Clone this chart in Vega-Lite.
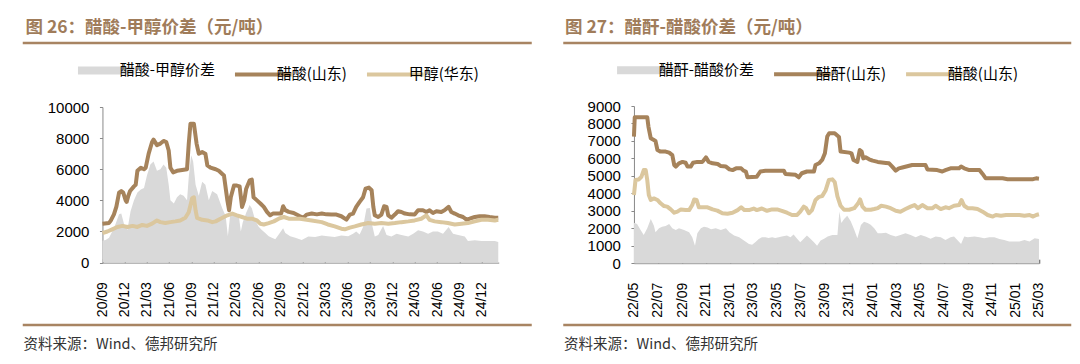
{
  "$schema": "https://vega.github.io/schema/vega-lite/v6.json",
  "background": "white",
  "padding": {"left": 20.75, "top": 18, "right": 0, "bottom": 0},
  "config": {
    "view": {"stroke": null},
    "axis": {"labelFont": "Liberation Sans", "labelColor": "#000000", "grid": false, "title": null}
  },
  "datasets": {
    "p26": [
      {"date":"2020-09-01","series":"醋酸-甲醇价差","value":1400},{"date":"2020-09-14","series":"醋酸-甲醇价差","value":1450},{"date":"2020-09-28","series":"醋酸-甲醇价差","value":1600},{"date":"2020-10-11","series":"醋酸-甲醇价差","value":2000},{"date":"2020-10-25","series":"醋酸-甲醇价差","value":2500},{"date":"2020-11-08","series":"醋酸-甲醇价差","value":3100},{"date":"2020-11-17","series":"醋酸-甲醇价差","value":3150},{"date":"2020-11-28","series":"醋酸-甲醇价差","value":2500},{"date":"2020-12-12","series":"醋酸-甲醇价差","value":2100},{"date":"2020-12-25","series":"醋酸-甲醇价差","value":3300},{"date":"2021-01-08","series":"醋酸-甲醇价差","value":4000},{"date":"2021-01-22","series":"醋酸-甲醇价差","value":4500},{"date":"2021-02-05","series":"醋酸-甲醇价差","value":4700},{"date":"2021-02-18","series":"醋酸-甲醇价差","value":4800},{"date":"2021-03-02","series":"醋酸-甲醇价差","value":5600},{"date":"2021-03-16","series":"醋酸-甲醇价差","value":6300},{"date":"2021-03-29","series":"醋酸-甲醇价差","value":6500},{"date":"2021-04-12","series":"醋酸-甲醇价差","value":5900},{"date":"2021-04-26","series":"醋酸-甲醇价差","value":6000},{"date":"2021-05-09","series":"醋酸-甲醇价差","value":6300},{"date":"2021-05-20","series":"醋酸-甲醇价差","value":6100},{"date":"2021-05-30","series":"醋酸-甲醇价差","value":5000},{"date":"2021-06-06","series":"醋酸-甲醇价差","value":4000},{"date":"2021-06-20","series":"醋酸-甲醇价差","value":3800},{"date":"2021-07-03","series":"醋酸-甲醇价差","value":4200},{"date":"2021-07-16","series":"醋酸-甲醇价差","value":4400},{"date":"2021-07-30","series":"醋酸-甲醇价差","value":4300},{"date":"2021-08-13","series":"醋酸-甲醇价差","value":4000},{"date":"2021-08-20","series":"醋酸-甲醇价差","value":5500},{"date":"2021-08-30","series":"醋酸-甲醇价差","value":6900},{"date":"2021-09-07","series":"醋酸-甲醇价差","value":6500},{"date":"2021-09-17","series":"醋酸-甲醇价差","value":5000},{"date":"2021-09-30","series":"醋酸-甲醇价差","value":4300},{"date":"2021-10-14","series":"醋酸-甲醇价差","value":5200},{"date":"2021-10-27","series":"醋酸-甲醇价差","value":5000},{"date":"2021-11-10","series":"醋酸-甲醇价差","value":4000},{"date":"2021-11-24","series":"醋酸-甲醇价差","value":4600},{"date":"2021-12-14","series":"醋酸-甲醇价差","value":4400},{"date":"2022-01-04","series":"醋酸-甲醇价差","value":3500},{"date":"2022-01-18","series":"醋酸-甲醇价差","value":3000},{"date":"2022-01-27","series":"醋酸-甲醇价差","value":1700},{"date":"2022-02-05","series":"醋酸-甲醇价差","value":3000},{"date":"2022-02-14","series":"醋酸-甲醇价差","value":3200},{"date":"2022-02-28","series":"醋酸-甲醇价差","value":3000},{"date":"2022-03-12","series":"醋酸-甲醇价差","value":3100},{"date":"2022-03-21","series":"醋酸-甲醇价差","value":2000},{"date":"2022-03-29","series":"醋酸-甲醇价差","value":2600},{"date":"2022-04-12","series":"醋酸-甲醇价差","value":3200},{"date":"2022-04-26","series":"醋酸-甲醇价差","value":3700},{"date":"2022-05-05","series":"醋酸-甲醇价差","value":3500},{"date":"2022-05-19","series":"醋酸-甲醇价差","value":2700},{"date":"2022-06-02","series":"醋酸-甲醇价差","value":2300},{"date":"2022-06-15","series":"醋酸-甲醇价差","value":2100},{"date":"2022-06-29","series":"醋酸-甲醇价差","value":1900},{"date":"2022-07-13","series":"醋酸-甲醇价差","value":1700},{"date":"2022-07-26","series":"醋酸-甲醇价差","value":1600},{"date":"2022-08-09","series":"醋酸-甲醇价差","value":1500},{"date":"2022-08-23","series":"醋酸-甲醇价差","value":1800},{"date":"2022-09-10","series":"醋酸-甲醇价差","value":2200},{"date":"2022-09-19","series":"醋酸-甲醇价差","value":1900},{"date":"2022-10-09","series":"醋酸-甲醇价差","value":1700},{"date":"2022-10-30","series":"醋酸-甲醇价差","value":1600},{"date":"2022-11-25","series":"醋酸-甲醇价差","value":1460},{"date":"2022-12-22","series":"醋酸-甲醇价差","value":1680},{"date":"2023-01-19","series":"醋酸-甲醇价差","value":1650},{"date":"2023-02-15","series":"醋酸-甲醇价差","value":1740},{"date":"2023-03-12","series":"醋酸-甲醇价差","value":1700},{"date":"2023-04-09","series":"醋酸-甲醇价差","value":1650},{"date":"2023-05-06","series":"醋酸-甲醇价差","value":1740},{"date":"2023-06-03","series":"醋酸-甲醇价差","value":1700},{"date":"2023-06-23","series":"醋酸-甲醇价差","value":1860},{"date":"2023-07-06","series":"醋酸-甲醇价差","value":2000},{"date":"2023-07-20","series":"醋酸-甲醇价差","value":1800},{"date":"2023-08-03","series":"醋酸-甲醇价差","value":2290},{"date":"2023-08-17","series":"醋酸-甲醇价差","value":3470},{"date":"2023-08-31","series":"醋酸-甲醇价差","value":3510},{"date":"2023-09-10","series":"醋酸-甲醇价差","value":2360},{"date":"2023-09-20","series":"醋酸-甲醇价差","value":1680},{"date":"2023-10-04","series":"醋酸-甲醇价差","value":1780},{"date":"2023-10-24","series":"醋酸-甲醇价差","value":2360},{"date":"2023-11-07","series":"醋酸-甲醇价差","value":1780},{"date":"2023-11-27","series":"醋酸-甲醇价差","value":1680},{"date":"2023-12-18","series":"醋酸-甲醇价差","value":1860},{"date":"2024-01-07","series":"醋酸-甲醇价差","value":1780},{"date":"2024-02-04","series":"醋酸-甲醇价差","value":1680},{"date":"2024-02-24","series":"醋酸-甲醇价差","value":1860},{"date":"2024-03-15","series":"醋酸-甲醇价差","value":2080},{"date":"2024-04-04","series":"醋酸-甲醇价差","value":2000},{"date":"2024-04-25","series":"醋酸-甲醇价差","value":1860},{"date":"2024-05-15","series":"醋酸-甲醇价差","value":2000},{"date":"2024-06-04","series":"醋酸-甲醇价差","value":2000},{"date":"2024-06-25","series":"醋酸-甲醇价差","value":1860},{"date":"2024-07-18","series":"醋酸-甲醇价差","value":2290},{"date":"2024-08-05","series":"醋酸-甲醇价差","value":1860},{"date":"2024-08-26","series":"醋酸-甲醇价差","value":1780},{"date":"2024-09-22","series":"醋酸-甲醇价差","value":1680},{"date":"2024-10-05","series":"醋酸-甲醇价差","value":1390},{"date":"2024-11-02","series":"醋酸-甲醇价差","value":1440},{"date":"2024-11-29","series":"醋酸-甲醇价差","value":1390},{"date":"2024-12-26","series":"醋酸-甲醇价差","value":1390},{"date":"2025-01-23","series":"醋酸-甲醇价差","value":1390},{"date":"2025-02-06","series":"醋酸-甲醇价差","value":1330},
      {"date":"2020-09-01","series":"醋酸(山东)","value":2500},{"date":"2020-09-28","series":"醋酸(山东)","value":2550},{"date":"2020-10-05","series":"醋酸(山东)","value":2700},{"date":"2020-10-18","series":"醋酸(山东)","value":3100},{"date":"2020-10-28","series":"醋酸(山东)","value":3600},{"date":"2020-11-08","series":"醋酸(山东)","value":4500},{"date":"2020-11-17","series":"醋酸(山东)","value":4600},{"date":"2020-11-25","series":"醋酸(山东)","value":4500},{"date":"2020-12-05","series":"醋酸(山东)","value":4000},{"date":"2020-12-09","series":"醋酸(山东)","value":3900},{"date":"2020-12-16","series":"醋酸(山东)","value":4300},{"date":"2020-12-23","series":"醋酸(山东)","value":4600},{"date":"2021-01-08","series":"醋酸(山东)","value":4900},{"date":"2021-01-15","series":"醋酸(山东)","value":5000},{"date":"2021-01-22","series":"醋酸(山东)","value":5900},{"date":"2021-02-05","series":"醋酸(山东)","value":6100},{"date":"2021-02-18","series":"醋酸(山东)","value":6000},{"date":"2021-02-25","series":"醋酸(山东)","value":6100},{"date":"2021-03-09","series":"醋酸(山东)","value":7000},{"date":"2021-03-23","series":"醋酸(山东)","value":7750},{"date":"2021-03-29","series":"醋酸(山东)","value":7900},{"date":"2021-04-12","series":"醋酸(山东)","value":7550},{"date":"2021-04-26","series":"醋酸(山东)","value":7650},{"date":"2021-05-09","series":"醋酸(山东)","value":7820},{"date":"2021-05-20","series":"醋酸(山东)","value":7750},{"date":"2021-05-30","series":"醋酸(山东)","value":7200},{"date":"2021-06-06","series":"醋酸(山东)","value":6100},{"date":"2021-06-17","series":"醋酸(山东)","value":5800},{"date":"2021-07-03","series":"醋酸(山东)","value":5900},{"date":"2021-07-24","series":"醋酸(山东)","value":5950},{"date":"2021-08-13","series":"醋酸(山东)","value":6000},{"date":"2021-08-20","series":"醋酸(山东)","value":7650},{"date":"2021-08-27","series":"醋酸(山东)","value":8930},{"date":"2021-09-10","series":"醋酸(山东)","value":8930},{"date":"2021-09-21","series":"醋酸(山东)","value":7650},{"date":"2021-09-30","series":"醋酸(山东)","value":7000},{"date":"2021-10-14","series":"醋酸(山东)","value":7100},{"date":"2021-10-27","series":"醋酸(山东)","value":7000},{"date":"2021-11-04","series":"醋酸(山东)","value":6250},{"date":"2021-11-17","series":"醋酸(山东)","value":6100},{"date":"2021-12-08","series":"醋酸(山东)","value":6000},{"date":"2021-12-21","series":"醋酸(山东)","value":5900},{"date":"2022-01-04","series":"醋酸(山东)","value":5700},{"date":"2022-01-11","series":"醋酸(山东)","value":5600},{"date":"2022-01-25","series":"醋酸(山东)","value":4000},{"date":"2022-02-01","series":"醋酸(山东)","value":3370},{"date":"2022-02-08","series":"醋酸(山东)","value":4200},{"date":"2022-02-21","series":"醋酸(山东)","value":4950},{"date":"2022-03-05","series":"醋酸(山东)","value":4950},{"date":"2022-03-16","series":"醋酸(山东)","value":4900},{"date":"2022-03-26","series":"醋酸(山东)","value":3580},{"date":"2022-04-04","series":"醋酸(山东)","value":4000},{"date":"2022-04-12","series":"醋酸(山东)","value":4750},{"date":"2022-04-26","series":"醋酸(山东)","value":5280},{"date":"2022-05-05","series":"醋酸(山东)","value":5330},{"date":"2022-05-12","series":"醋酸(山东)","value":4200},{"date":"2022-05-26","series":"醋酸(山东)","value":4000},{"date":"2022-06-09","series":"醋酸(山东)","value":3800},{"date":"2022-06-23","series":"醋酸(山东)","value":3580},{"date":"2022-07-06","series":"醋酸(山东)","value":3260},{"date":"2022-07-19","series":"醋酸(山东)","value":3040},{"date":"2022-07-30","series":"醋酸(山东)","value":3150},{"date":"2022-08-16","series":"醋酸(山东)","value":3150},{"date":"2022-09-02","series":"醋酸(山东)","value":3150},{"date":"2022-09-10","series":"醋酸(山东)","value":3620},{"date":"2022-09-19","series":"醋酸(山东)","value":3370},{"date":"2022-10-03","series":"醋酸(山东)","value":3260},{"date":"2022-10-23","series":"醋酸(山东)","value":3190},{"date":"2022-11-18","series":"醋酸(山东)","value":2980},{"date":"2022-12-02","series":"醋酸(山东)","value":2890},{"date":"2022-12-15","series":"醋酸(山东)","value":3085},{"date":"2023-01-05","series":"醋酸(山东)","value":3150},{"date":"2023-01-26","series":"醋酸(山东)","value":3100},{"date":"2023-02-15","series":"醋酸(山东)","value":3150},{"date":"2023-03-06","series":"醋酸(山东)","value":3100},{"date":"2023-03-27","series":"醋酸(山东)","value":3085},{"date":"2023-04-16","series":"醋酸(山东)","value":3085},{"date":"2023-05-06","series":"醋酸(山东)","value":2980},{"date":"2023-05-27","series":"醋酸(山东)","value":2760},{"date":"2023-06-10","series":"醋酸(山东)","value":3085},{"date":"2023-06-23","series":"醋酸(山东)","value":3150},{"date":"2023-07-06","series":"醋酸(山东)","value":3580},{"date":"2023-07-20","series":"醋酸(山东)","value":3900},{"date":"2023-08-03","series":"醋酸(山东)","value":4200},{"date":"2023-08-13","series":"醋酸(山东)","value":4750},{"date":"2023-08-27","series":"醋酸(山东)","value":4820},{"date":"2023-09-07","series":"醋酸(山东)","value":4650},{"date":"2023-09-14","series":"醋酸(山东)","value":3580},{"date":"2023-09-20","series":"醋酸(山东)","value":3040},{"date":"2023-10-04","series":"醋酸(山东)","value":2930},{"date":"2023-10-17","series":"醋酸(山东)","value":3085},{"date":"2023-10-28","series":"醋酸(山东)","value":3620},{"date":"2023-11-07","series":"醋酸(山东)","value":3580},{"date":"2023-11-14","series":"醋酸(山东)","value":3040},{"date":"2023-11-27","series":"醋酸(山东)","value":2890},{"date":"2023-12-11","series":"醋酸(山东)","value":3085},{"date":"2023-12-24","series":"醋酸(山东)","value":3300},{"date":"2024-01-07","series":"醋酸(山东)","value":3250},{"date":"2024-01-21","series":"醋酸(山东)","value":3150},{"date":"2024-02-10","series":"醋酸(山东)","value":3100},{"date":"2024-03-01","series":"醋酸(山东)","value":3085},{"date":"2024-03-15","series":"醋酸(山东)","value":3360},{"date":"2024-04-04","series":"醋酸(山东)","value":3360},{"date":"2024-04-18","series":"醋酸(山东)","value":3250},{"date":"2024-05-01","series":"醋酸(山东)","value":3360},{"date":"2024-05-15","series":"醋酸(山东)","value":3190},{"date":"2024-05-29","series":"醋酸(山东)","value":3300},{"date":"2024-06-18","series":"醋酸(山东)","value":3250},{"date":"2024-07-01","series":"醋酸(山东)","value":3360},{"date":"2024-07-18","series":"醋酸(山东)","value":3580},{"date":"2024-07-29","series":"醋酸(山东)","value":3250},{"date":"2024-08-12","series":"醋酸(山东)","value":3150},{"date":"2024-08-26","series":"醋酸(山东)","value":3040},{"date":"2024-09-15","series":"醋酸(山东)","value":2930},{"date":"2024-09-29","series":"醋酸(山东)","value":2760},{"date":"2024-10-12","series":"醋酸(山东)","value":2820},{"date":"2024-11-02","series":"醋酸(山东)","value":2930},{"date":"2024-11-22","series":"醋酸(山东)","value":2980},{"date":"2024-12-12","series":"醋酸(山东)","value":2980},{"date":"2025-01-02","series":"醋酸(山东)","value":2930},{"date":"2025-01-23","series":"醋酸(山东)","value":2890},{"date":"2025-02-06","series":"醋酸(山东)","value":2890},
      {"date":"2020-09-01","series":"甲醇(华东)","value":1900},{"date":"2020-09-21","series":"甲醇(华东)","value":2000},{"date":"2020-10-11","series":"甲醇(华东)","value":2140},{"date":"2020-11-01","series":"甲醇(华东)","value":2290},{"date":"2020-11-22","series":"甲醇(华东)","value":2360},{"date":"2020-12-12","series":"甲醇(华东)","value":2290},{"date":"2021-01-02","series":"甲醇(华东)","value":2360},{"date":"2021-01-22","series":"甲醇(华东)","value":2290},{"date":"2021-02-11","series":"甲醇(华东)","value":2420},{"date":"2021-03-02","series":"甲醇(华东)","value":2360},{"date":"2021-03-23","series":"甲醇(华东)","value":2500},{"date":"2021-04-12","series":"甲醇(华东)","value":2710},{"date":"2021-04-26","series":"甲醇(华东)","value":2600},{"date":"2021-05-16","series":"甲醇(华东)","value":2550},{"date":"2021-06-06","series":"甲醇(华东)","value":2600},{"date":"2021-06-26","series":"甲醇(华东)","value":2650},{"date":"2021-07-16","series":"甲醇(华东)","value":2710},{"date":"2021-08-06","series":"甲醇(华东)","value":2880},{"date":"2021-08-20","series":"甲醇(华东)","value":3240},{"date":"2021-09-03","series":"甲醇(华东)","value":4140},{"date":"2021-09-10","series":"甲醇(华东)","value":4200},{"date":"2021-09-17","series":"甲醇(华东)","value":3350},{"date":"2021-09-23","series":"甲醇(华东)","value":2880},{"date":"2021-10-14","series":"甲醇(华东)","value":2750},{"date":"2021-11-04","series":"甲醇(华东)","value":2710},{"date":"2021-11-24","series":"甲醇(华东)","value":2600},{"date":"2021-12-08","series":"甲醇(华东)","value":2650},{"date":"2021-12-28","series":"甲醇(华东)","value":2820},{"date":"2022-01-11","series":"甲醇(华东)","value":2930},{"date":"2022-01-25","series":"甲醇(华东)","value":3040},{"date":"2022-02-14","series":"甲醇(华东)","value":3150},{"date":"2022-03-05","series":"甲醇(华东)","value":3040},{"date":"2022-03-26","series":"甲醇(华东)","value":2930},{"date":"2022-04-15","series":"甲醇(华东)","value":2820},{"date":"2022-05-05","series":"甲醇(华东)","value":2820},{"date":"2022-05-26","series":"甲醇(华东)","value":2710},{"date":"2022-06-09","series":"甲醇(华东)","value":2500},{"date":"2022-06-23","series":"甲醇(华东)","value":2450},{"date":"2022-07-13","series":"甲醇(华东)","value":2540},{"date":"2022-08-03","series":"甲醇(华东)","value":2650},{"date":"2022-08-23","series":"甲醇(华东)","value":2820},{"date":"2022-09-13","series":"甲醇(华东)","value":2930},{"date":"2022-10-03","series":"甲醇(华东)","value":2820},{"date":"2022-10-23","series":"甲醇(华东)","value":2820},{"date":"2022-11-18","series":"甲醇(华东)","value":2820},{"date":"2023-01-05","series":"甲醇(华东)","value":2710},{"date":"2023-02-15","series":"甲醇(华东)","value":2600},{"date":"2023-03-12","series":"甲醇(华东)","value":2450},{"date":"2023-04-09","series":"甲醇(华东)","value":2330},{"date":"2023-05-06","series":"甲醇(华东)","value":2180},{"date":"2023-05-20","series":"甲醇(华东)","value":2140},{"date":"2023-06-10","series":"甲醇(华东)","value":2250},{"date":"2023-06-30","series":"甲醇(华东)","value":2330},{"date":"2023-07-27","series":"甲醇(华东)","value":2450},{"date":"2023-08-24","series":"甲醇(华东)","value":2540},{"date":"2023-09-20","series":"甲醇(华东)","value":2500},{"date":"2023-10-17","series":"甲醇(华东)","value":2540},{"date":"2023-11-14","series":"甲醇(华东)","value":2500},{"date":"2023-12-11","series":"甲醇(华东)","value":2540},{"date":"2024-01-07","series":"甲醇(华东)","value":2600},{"date":"2024-02-04","series":"甲醇(华东)","value":2650},{"date":"2024-03-01","series":"甲醇(华东)","value":2710},{"date":"2024-03-28","series":"甲醇(华东)","value":2820},{"date":"2024-04-18","series":"甲醇(华东)","value":3040},{"date":"2024-05-01","series":"甲醇(华东)","value":2750},{"date":"2024-05-22","series":"甲醇(华东)","value":2650},{"date":"2024-06-18","series":"甲醇(华东)","value":2600},{"date":"2024-07-15","series":"甲醇(华东)","value":2540},{"date":"2024-08-12","series":"甲醇(华东)","value":2450},{"date":"2024-09-09","series":"甲醇(华东)","value":2500},{"date":"2024-10-05","series":"甲醇(华东)","value":2540},{"date":"2024-11-02","series":"甲醇(华东)","value":2650},{"date":"2024-11-29","series":"甲醇(华东)","value":2750},{"date":"2024-12-26","series":"甲醇(华东)","value":2750},{"date":"2025-01-23","series":"甲醇(华东)","value":2710},{"date":"2025-02-06","series":"甲醇(华东)","value":2750}
    ],
    "p27": [
      {"date":"2022-05-01","series":"醋酐-醋酸价差","value":2320},{"date":"2022-05-09","series":"醋酐-醋酸价差","value":2240},{"date":"2022-05-18","series":"醋酐-醋酸价差","value":1900},{"date":"2022-05-26","series":"醋酐-醋酸价差","value":1620},{"date":"2022-06-04","series":"醋酐-醋酸价差","value":2000},{"date":"2022-06-13","series":"醋酐-醋酸价差","value":2530},{"date":"2022-06-21","series":"醋酐-醋酸价差","value":2150},{"date":"2022-06-25","series":"醋酐-醋酸价差","value":1770},{"date":"2022-07-04","series":"醋酐-醋酸价差","value":2000},{"date":"2022-07-12","series":"醋酐-醋酸价差","value":2090},{"date":"2022-07-21","series":"醋酐-醋酸价差","value":2130},{"date":"2022-07-30","series":"醋酐-醋酸价差","value":2240},{"date":"2022-08-07","series":"醋酐-醋酸价差","value":2000},{"date":"2022-08-16","series":"醋酐-醋酸价差","value":1900},{"date":"2022-08-24","series":"醋酐-醋酸价差","value":2000},{"date":"2022-09-06","series":"醋酐-醋酸价差","value":1900},{"date":"2022-09-19","series":"醋酐-醋酸价差","value":1770},{"date":"2022-09-27","series":"醋酐-醋酸价差","value":1480},{"date":"2022-10-04","series":"醋酐-醋酸价差","value":1000},{"date":"2022-10-10","series":"醋酐-醋酸价差","value":1710},{"date":"2022-10-19","series":"醋酐-醋酸价差","value":2000},{"date":"2022-10-27","series":"醋酐-醋酸价差","value":2090},{"date":"2022-11-05","series":"醋酐-醋酸价差","value":2050},{"date":"2022-11-14","series":"醋酐-醋酸价差","value":1950},{"date":"2022-11-26","series":"醋酐-醋酸价差","value":2000},{"date":"2022-12-09","series":"醋酐-醋酸价差","value":1900},{"date":"2022-12-22","series":"醋酐-醋酸价差","value":2000},{"date":"2022-12-31","series":"醋酐-醋酸价差","value":1770},{"date":"2023-01-12","series":"醋酐-醋酸价差","value":1580},{"date":"2023-01-25","series":"醋酐-醋酸价差","value":1480},{"date":"2023-02-07","series":"醋酐-醋酸价差","value":1290},{"date":"2023-02-19","series":"醋酐-醋酸价差","value":1100},{"date":"2023-02-27","series":"醋酐-醋酸价差","value":1060},{"date":"2023-03-07","series":"醋酐-醋酸价差","value":1200},{"date":"2023-03-16","series":"醋酐-醋酸价差","value":1390},{"date":"2023-03-24","series":"醋酐-醋酸价差","value":1480},{"date":"2023-04-02","series":"醋酐-醋酸价差","value":1480},{"date":"2023-04-10","series":"醋酐-醋酸价差","value":1440},{"date":"2023-04-19","series":"醋酐-醋酸价差","value":1480},{"date":"2023-04-27","series":"醋酐-醋酸价差","value":1440},{"date":"2023-05-06","series":"醋酐-醋酸价差","value":1480},{"date":"2023-05-14","series":"醋酐-醋酸价差","value":1530},{"date":"2023-05-27","series":"醋酐-醋酸价差","value":1580},{"date":"2023-06-05","series":"醋酐-醋酸价差","value":1480},{"date":"2023-06-13","series":"醋酐-醋酸价差","value":1640},{"date":"2023-06-22","series":"醋酐-醋酸价差","value":1400},{"date":"2023-06-30","series":"醋酐-醋酸价差","value":1200},{"date":"2023-07-09","series":"醋酐-醋酸价差","value":1400},{"date":"2023-07-17","series":"醋酐-醋酸价差","value":1580},{"date":"2023-07-26","series":"醋酐-醋酸价差","value":1400},{"date":"2023-08-04","series":"醋酐-醋酸价差","value":1200},{"date":"2023-08-12","series":"醋酐-醋酸价差","value":1000},{"date":"2023-08-21","series":"醋酐-醋酸价差","value":1300},{"date":"2023-08-30","series":"醋酐-醋酸价差","value":1400},{"date":"2023-09-08","series":"醋酐-醋酸价差","value":1530},{"date":"2023-09-20","series":"醋酐-醋酸价差","value":1620},{"date":"2023-10-03","series":"醋酐-醋酸价差","value":1620},{"date":"2023-10-08","series":"醋酐-醋酸价差","value":2960},{"date":"2023-10-13","series":"醋酐-醋酸价差","value":2300},{"date":"2023-10-20","series":"醋酐-醋酸价差","value":2530},{"date":"2023-10-28","series":"醋酐-醋酸价差","value":2720},{"date":"2023-11-06","series":"醋酐-醋酸价差","value":2400},{"date":"2023-11-15","series":"醋酐-醋酸价差","value":1910},{"date":"2023-11-23","series":"醋酐-醋酸价差","value":1430},{"date":"2023-12-02","series":"醋酐-醋酸价差","value":2190},{"date":"2023-12-10","series":"醋酐-醋酸价差","value":2380},{"date":"2023-12-19","series":"醋酐-醋酸价差","value":2300},{"date":"2023-12-27","series":"醋酐-醋酸价差","value":2200},{"date":"2024-01-05","series":"醋酐-醋酸价差","value":2000},{"date":"2024-01-14","series":"醋酐-醋酸价差","value":1710},{"date":"2024-01-23","series":"醋酐-醋酸价差","value":1710},{"date":"2024-02-04","series":"醋酐-醋酸价差","value":1740},{"date":"2024-02-16","series":"醋酐-醋酸价差","value":1620},{"date":"2024-02-29","series":"醋酐-醋酸价差","value":1530},{"date":"2024-03-12","series":"醋酐-醋酸价差","value":1620},{"date":"2024-03-25","series":"醋酐-醋酸价差","value":1710},{"date":"2024-04-07","series":"醋酐-醋酸价差","value":1620},{"date":"2024-04-20","series":"醋酐-醋酸价差","value":1480},{"date":"2024-05-03","series":"醋酐-醋酸价差","value":1620},{"date":"2024-05-15","series":"醋酐-醋酸价差","value":1530},{"date":"2024-05-28","series":"醋酐-醋酸价差","value":1400},{"date":"2024-06-10","series":"醋酐-醋酸价差","value":1530},{"date":"2024-06-23","series":"醋酐-醋酸价差","value":1480},{"date":"2024-07-05","series":"醋酐-醋酸价差","value":1330},{"date":"2024-07-18","series":"醋酐-醋酸价差","value":1480},{"date":"2024-07-27","series":"醋酐-醋酸价差","value":1530},{"date":"2024-08-14","series":"醋酐-醋酸价差","value":1100},{"date":"2024-08-22","series":"醋酐-醋酸价差","value":1530},{"date":"2024-08-31","series":"醋酐-醋酸价差","value":1480},{"date":"2024-09-17","series":"醋酐-醋酸价差","value":1530},{"date":"2024-09-30","series":"醋酐-醋酸价差","value":1480},{"date":"2024-10-12","series":"醋酐-醋酸价差","value":1430},{"date":"2024-10-25","series":"醋酐-醋酸价差","value":1480},{"date":"2024-11-07","series":"醋酐-醋酸价差","value":1480},{"date":"2024-11-20","series":"醋酐-醋酸价差","value":1380},{"date":"2024-12-02","series":"醋酐-醋酸价差","value":1330},{"date":"2024-12-15","series":"醋酐-醋酸价差","value":1240},{"date":"2024-12-28","series":"醋酐-醋酸价差","value":1240},{"date":"2025-01-10","series":"醋酐-醋酸价差","value":1240},{"date":"2025-01-23","series":"醋酐-醋酸价差","value":1330},{"date":"2025-02-05","series":"醋酐-醋酸价差","value":1240},{"date":"2025-02-18","series":"醋酐-醋酸价差","value":1430},{"date":"2025-03-01","series":"醋酐-醋酸价差","value":1380},
      {"date":"2022-05-01","series":"醋酐(山东)","value":7250},{"date":"2022-05-03","series":"醋酐(山东)","value":8350},{"date":"2022-06-04","series":"醋酐(山东)","value":8350},{"date":"2022-06-07","series":"醋酐(山东)","value":7820},{"date":"2022-06-13","series":"醋酐(山东)","value":7150},{"date":"2022-06-21","series":"醋酐(山东)","value":7050},{"date":"2022-06-25","series":"醋酐(山东)","value":7000},{"date":"2022-06-30","series":"醋酐(山东)","value":6480},{"date":"2022-07-08","series":"醋酐(山东)","value":6390},{"date":"2022-07-21","series":"醋酐(山东)","value":6390},{"date":"2022-07-30","series":"醋酐(山东)","value":6330},{"date":"2022-08-07","series":"醋酐(山东)","value":6190},{"date":"2022-08-12","series":"醋酐(山东)","value":5620},{"date":"2022-08-16","series":"醋酐(山东)","value":5530},{"date":"2022-08-24","series":"醋酐(山东)","value":5720},{"date":"2022-09-02","series":"醋酐(山东)","value":5800},{"date":"2022-09-10","series":"醋酐(山东)","value":5750},{"date":"2022-09-15","series":"醋酐(山东)","value":5530},{"date":"2022-09-23","series":"醋酐(山东)","value":5530},{"date":"2022-09-29","series":"醋酐(山东)","value":5750},{"date":"2022-10-10","series":"醋酐(山东)","value":5800},{"date":"2022-10-23","series":"醋酐(山东)","value":5800},{"date":"2022-11-01","series":"醋酐(山东)","value":6060},{"date":"2022-11-08","series":"醋酐(山东)","value":5800},{"date":"2022-11-18","series":"醋酐(山东)","value":5720},{"date":"2022-12-01","series":"醋酐(山东)","value":5680},{"date":"2022-12-09","series":"醋酐(山东)","value":5560},{"date":"2022-12-22","series":"醋酐(山东)","value":5530},{"date":"2022-12-31","series":"醋酐(山东)","value":5370},{"date":"2023-01-08","series":"醋酐(山东)","value":5330},{"date":"2023-01-17","series":"醋酐(山东)","value":5430},{"date":"2023-01-30","series":"醋酐(山东)","value":5430},{"date":"2023-02-05","series":"醋酐(山东)","value":5300},{"date":"2023-02-11","series":"醋酐(山东)","value":5250},{"date":"2023-02-15","series":"醋酐(山东)","value":4920},{"date":"2023-03-11","series":"醋酐(山东)","value":4950},{"date":"2023-03-20","series":"醋酐(山东)","value":5250},{"date":"2023-04-02","series":"醋酐(山东)","value":5290},{"date":"2023-05-02","series":"醋酐(山东)","value":5300},{"date":"2023-05-19","series":"醋酐(山东)","value":5300},{"date":"2023-05-23","series":"醋酐(山东)","value":5110},{"date":"2023-06-18","series":"醋酐(山东)","value":5060},{"date":"2023-06-26","series":"醋酐(山东)","value":4920},{"date":"2023-07-04","series":"醋酐(山东)","value":5150},{"date":"2023-07-17","series":"醋酐(山东)","value":5250},{"date":"2023-08-04","series":"醋酐(山东)","value":5250},{"date":"2023-08-08","series":"醋酐(山东)","value":5620},{"date":"2023-08-17","series":"醋酐(山东)","value":5720},{"date":"2023-08-25","series":"醋酐(山东)","value":5910},{"date":"2023-09-01","series":"醋酐(山东)","value":6290},{"date":"2023-09-07","series":"醋酐(山东)","value":7250},{"date":"2023-09-12","series":"醋酐(山东)","value":7440},{"date":"2023-09-26","series":"醋酐(山东)","value":7440},{"date":"2023-10-07","series":"醋酐(山东)","value":7230},{"date":"2023-10-11","series":"醋酐(山东)","value":6390},{"date":"2023-11-02","series":"醋酐(山东)","value":6330},{"date":"2023-11-08","series":"醋酐(山东)","value":6290},{"date":"2023-11-13","series":"醋酐(山东)","value":5910},{"date":"2023-11-23","series":"醋酐(山东)","value":5800},{"date":"2023-11-29","series":"醋酐(山东)","value":6480},{"date":"2023-12-04","series":"醋酐(山东)","value":6390},{"date":"2023-12-08","series":"醋酐(山东)","value":6000},{"date":"2023-12-14","series":"醋酐(山东)","value":6060},{"date":"2023-12-23","series":"醋酐(山东)","value":5950},{"date":"2024-01-01","series":"醋酐(山东)","value":5870},{"date":"2024-01-14","series":"醋酐(山东)","value":5800},{"date":"2024-02-04","series":"醋酐(山东)","value":5740},{"date":"2024-02-12","series":"醋酐(山东)","value":5720},{"date":"2024-02-20","series":"醋酐(山东)","value":5530},{"date":"2024-02-29","series":"醋酐(山东)","value":5300},{"date":"2024-03-08","series":"醋酐(山东)","value":5430},{"date":"2024-03-17","series":"醋酐(山东)","value":5480},{"date":"2024-04-11","series":"醋酐(山东)","value":5620},{"date":"2024-05-15","series":"醋酐(山东)","value":5620},{"date":"2024-05-20","series":"醋酐(山东)","value":5370},{"date":"2024-06-14","series":"醋酐(山东)","value":5330},{"date":"2024-06-27","series":"醋酐(山东)","value":5250},{"date":"2024-07-05","series":"醋酐(山东)","value":5330},{"date":"2024-07-18","series":"醋酐(山东)","value":5430},{"date":"2024-08-09","series":"醋酐(山东)","value":5430},{"date":"2024-08-14","series":"醋酐(山东)","value":5530},{"date":"2024-08-22","series":"醋酐(山东)","value":5430},{"date":"2024-09-04","series":"醋酐(山东)","value":5330},{"date":"2024-09-30","series":"醋酐(山东)","value":5330},{"date":"2024-10-08","series":"醋酐(山东)","value":5110},{"date":"2024-10-16","series":"醋酐(山东)","value":4860},{"date":"2024-11-11","series":"醋酐(山东)","value":4860},{"date":"2024-11-28","series":"醋酐(山东)","value":4860},{"date":"2024-12-11","series":"醋酐(山东)","value":4810},{"date":"2025-01-15","series":"醋酐(山东)","value":4810},{"date":"2025-02-14","series":"醋酐(山东)","value":4810},{"date":"2025-02-22","series":"醋酐(山东)","value":4860},{"date":"2025-03-01","series":"醋酐(山东)","value":4840},
      {"date":"2022-05-01","series":"醋酸(山东)","value":3900},{"date":"2022-05-05","series":"醋酸(山东)","value":4760},{"date":"2022-05-13","series":"醋酸(山东)","value":4790},{"date":"2022-05-20","series":"醋酸(山东)","value":4940},{"date":"2022-05-26","series":"醋酸(山东)","value":5330},{"date":"2022-05-31","series":"醋酸(山东)","value":5330},{"date":"2022-06-04","series":"醋酸(山东)","value":4760},{"date":"2022-06-08","series":"醋酸(山东)","value":3900},{"date":"2022-06-13","series":"醋酸(山东)","value":3620},{"date":"2022-06-21","series":"醋酸(山东)","value":3710},{"date":"2022-06-30","series":"醋酸(山东)","value":3620},{"date":"2022-07-08","series":"醋酸(山东)","value":3430},{"date":"2022-07-17","series":"醋酸(山东)","value":3270},{"date":"2022-07-25","series":"醋酸(山东)","value":3240},{"date":"2022-08-03","series":"醋酸(山东)","value":3080},{"date":"2022-08-12","series":"醋酸(山东)","value":2890},{"date":"2022-08-20","series":"醋酸(山东)","value":2950},{"date":"2022-08-29","series":"醋酸(山东)","value":3080},{"date":"2022-09-10","series":"醋酸(山东)","value":3040},{"date":"2022-09-19","series":"醋酸(山东)","value":3040},{"date":"2022-09-27","series":"醋酸(山东)","value":3330},{"date":"2022-10-02","series":"醋酸(山东)","value":3650},{"date":"2022-10-08","series":"醋酸(山东)","value":3620},{"date":"2022-10-14","series":"醋酸(山东)","value":3200},{"date":"2022-10-27","series":"醋酸(山东)","value":3200},{"date":"2022-11-05","series":"醋酸(山东)","value":3200},{"date":"2022-11-18","series":"醋酸(山东)","value":3080},{"date":"2022-11-30","series":"醋酸(山东)","value":3010},{"date":"2022-12-13","series":"醋酸(山东)","value":2860},{"date":"2022-12-26","series":"醋酸(山东)","value":2830},{"date":"2023-01-08","series":"醋酸(山东)","value":2890},{"date":"2023-01-21","series":"醋酸(山东)","value":3040},{"date":"2023-01-30","series":"醋酸(山东)","value":3200},{"date":"2023-02-07","series":"醋酸(山东)","value":3040},{"date":"2023-02-19","series":"醋酸(山东)","value":3040},{"date":"2023-03-03","series":"醋酸(山东)","value":3130},{"date":"2023-03-11","series":"醋酸(山东)","value":3040},{"date":"2023-03-24","series":"醋酸(山东)","value":3130},{"date":"2023-04-06","series":"醋酸(山东)","value":3000},{"date":"2023-04-19","series":"醋酸(山东)","value":3080},{"date":"2023-05-02","series":"醋酸(山东)","value":3080},{"date":"2023-05-14","series":"醋酸(山东)","value":3000},{"date":"2023-05-27","series":"醋酸(山东)","value":2890},{"date":"2023-06-09","series":"醋酸(山东)","value":2760},{"date":"2023-06-22","series":"醋酸(山东)","value":2760},{"date":"2023-06-30","series":"醋酸(山东)","value":2950},{"date":"2023-07-09","series":"醋酸(山东)","value":3240},{"date":"2023-07-15","series":"醋酸(山东)","value":3150},{"date":"2023-07-22","series":"醋酸(山东)","value":2860},{"date":"2023-07-30","series":"醋酸(山东)","value":3040},{"date":"2023-08-08","series":"醋酸(山东)","value":3620},{"date":"2023-08-17","series":"醋酸(山东)","value":3800},{"date":"2023-08-25","series":"醋酸(山东)","value":3840},{"date":"2023-09-03","series":"醋酸(山东)","value":4180},{"date":"2023-09-11","series":"醋酸(山东)","value":4760},{"date":"2023-09-20","series":"醋酸(山东)","value":4800},{"date":"2023-09-26","series":"醋酸(山东)","value":4650},{"date":"2023-10-03","series":"醋酸(山东)","value":3820},{"date":"2023-10-11","series":"醋酸(山东)","value":3290},{"date":"2023-10-20","series":"醋酸(山东)","value":3060},{"date":"2023-11-02","series":"醋酸(山东)","value":3060},{"date":"2023-11-15","series":"醋酸(山东)","value":3150},{"date":"2023-11-25","series":"醋酸(山东)","value":3430},{"date":"2023-11-30","series":"醋酸(山东)","value":3650},{"date":"2023-12-06","series":"醋酸(山东)","value":3240},{"date":"2023-12-14","series":"醋酸(山东)","value":3060},{"date":"2023-12-27","series":"醋酸(山东)","value":3060},{"date":"2024-01-05","series":"醋酸(山东)","value":3100},{"date":"2024-01-14","series":"醋酸(山东)","value":3150},{"date":"2024-01-23","series":"醋酸(山东)","value":3290},{"date":"2024-02-04","series":"醋酸(山东)","value":3240},{"date":"2024-02-16","series":"醋酸(山东)","value":3150},{"date":"2024-02-29","series":"醋酸(山东)","value":3000},{"date":"2024-03-12","series":"醋酸(山东)","value":2950},{"date":"2024-03-25","series":"醋酸(山东)","value":3100},{"date":"2024-04-07","series":"醋酸(山东)","value":3240},{"date":"2024-04-17","series":"醋酸(山东)","value":3330},{"date":"2024-04-26","series":"醋酸(山东)","value":3150},{"date":"2024-05-07","series":"醋酸(山东)","value":3330},{"date":"2024-05-20","series":"醋酸(山东)","value":3150},{"date":"2024-06-02","series":"醋酸(山东)","value":3150},{"date":"2024-06-10","series":"醋酸(山东)","value":3290},{"date":"2024-06-23","series":"醋酸(山东)","value":3100},{"date":"2024-07-05","series":"醋酸(山东)","value":3200},{"date":"2024-07-14","series":"醋酸(山东)","value":3150},{"date":"2024-07-27","series":"醋酸(山东)","value":3290},{"date":"2024-08-09","series":"醋酸(山东)","value":3330},{"date":"2024-08-15","series":"醋酸(山东)","value":3620},{"date":"2024-08-22","series":"醋酸(山东)","value":3290},{"date":"2024-08-31","series":"醋酸(山东)","value":3150},{"date":"2024-09-12","series":"醋酸(山东)","value":3150},{"date":"2024-09-25","series":"醋酸(山东)","value":3100},{"date":"2024-10-08","series":"醋酸(山东)","value":2950},{"date":"2024-10-21","series":"醋酸(山东)","value":2760},{"date":"2024-11-03","series":"醋酸(山东)","value":2670},{"date":"2024-11-11","series":"醋酸(山东)","value":2760},{"date":"2024-11-24","series":"醋酸(山东)","value":2720},{"date":"2024-12-07","series":"醋酸(山东)","value":2760},{"date":"2024-12-28","series":"醋酸(山东)","value":2760},{"date":"2025-01-10","series":"醋酸(山东)","value":2760},{"date":"2025-01-23","series":"醋酸(山东)","value":2720},{"date":"2025-02-05","series":"醋酸(山东)","value":2760},{"date":"2025-02-14","series":"醋酸(山东)","value":2670},{"date":"2025-02-22","series":"醋酸(山东)","value":2760},{"date":"2025-03-01","series":"醋酸(山东)","value":2800}
    ]
  },
  "hconcat": [
    {
      "spacing": 0,
      "resolve": {"scale": {"color": "independent"}, "legend": {"color": "independent"}},
      "vconcat": [
        {
          "width": 509, "height": 2,
          "data": {"values": [{"k": 0}]},
          "title": {"text": "图 26：醋酸-甲醇价差（元/吨）", "anchor": "start", "orient": "top", "dx": 4, "offset": -9.1, "baseline": "alphabetic", "font": "Noto Sans CJK SC", "fontSize": 17.5, "fontWeight": "bold", "color": "#A07C5A"},
          "mark": {"type": "rule", "color": "#A88462", "strokeWidth": 2.5},
          "encoding": {"y": {"datum": 0, "type": "quantitative", "scale": {"domain": [0, 1]}, "axis": null}}
        },
        {
          "width": 509, "height": 155.6,
          "data": {"name": "p26"},
          "encoding": {
            "y": {"field": "value", "type": "quantitative", "scale": {"domain": [0, 10000], "nice": false},
              "axis": {"values": [0, 2000, 4000, 6000, 8000, 10000], "format": "d", "offset": -79.7, "labelFontSize": 15, "tickSize": 3, "labelPadding": 10.5, "domainColor": "#898989", "tickColor": "#898989"}},
            "color": {"field": "series", "type": "nominal",
              "scale": {"domain": ["醋酸-甲醇价差", "醋酸(山东)", "甲醇(华东)"], "range": ["#D9D9D9", "#A6835B", "#DBC79E"]},
              "legend": {"orient": "none", "legendX": 76, "legendY": -44.3, "direction": "horizontal", "title": null,
                "symbolType": "stroke", "symbolSize": 3200, "symbolStrokeWidth": 4, "labelFont": "Noto Sans CJK SC", "labelFontSize": 15, "labelColor": "#000000", "labelOffset": 6, "columnPadding": 11,
                "encode": {"symbols": {"update": {
                  "stroke": {"signal": "datum.label === '醋酸-甲醇价差' ? '#D9D9D9' : datum.label === '醋酸(山东)' ? '#A6835B' : '#DBC79E'"},
                  "strokeWidth": {"signal": "datum.label === '醋酸-甲醇价差' ? 8 : 4"}}}}}}
          },
          "layer": [
            {
              "transform": [{"filter": "datum.series === '醋酸-甲醇价差'"}],
              "mark": {"type": "area", "opacity": 1},
              "encoding": {"x": {"field": "date", "type": "temporal",
                "scale": {"type": "utc", "domain": [{"year": 2020, "month": 9, "date": 1, "utc": true}, {"year": 2025, "month": 2, "date": 8, "utc": true}], "range": [79.7, 476]},
                "axis": {"orient": "bottom", "values": [
                  {"year":2020,"month":9,"date":1,"utc":true},{"year":2020,"month":12,"date":1,"utc":true},{"year":2021,"month":3,"date":1,"utc":true},{"year":2021,"month":6,"date":1,"utc":true},{"year":2021,"month":9,"date":1,"utc":true},{"year":2021,"month":12,"date":1,"utc":true},{"year":2022,"month":3,"date":1,"utc":true},{"year":2022,"month":6,"date":1,"utc":true},{"year":2022,"month":9,"date":1,"utc":true},{"year":2022,"month":12,"date":1,"utc":true},{"year":2023,"month":3,"date":1,"utc":true},{"year":2023,"month":6,"date":1,"utc":true},{"year":2023,"month":9,"date":1,"utc":true},{"year":2023,"month":12,"date":1,"utc":true},{"year":2024,"month":3,"date":1,"utc":true},{"year":2024,"month":6,"date":1,"utc":true},{"year":2024,"month":9,"date":1,"utc":true},{"year":2024,"month":12,"date":1,"utc":true}],
                  "labelExpr": "utcFormat(datum.value, '%y/%m')", "labelAngle": -90, "labelFontSize": 14, "tickSize": -4, "labelPadding": 23, "domainColor": "#898989", "tickColor": "#555555", "labelOverlap": false, "labelFlush": false, "minExtent": 59.85, "maxExtent": 200}}}
            },
            {
              "transform": [{"filter": "datum.series === '醋酸(山东)'"}],
              "mark": {"type": "line", "strokeWidth": 4, "strokeJoin": "round"},
              "encoding": {"x": {"field": "date", "type": "temporal",
                "scale": {"type": "utc", "domain": [{"year": 2020, "month": 9, "date": 1, "utc": true}, {"year": 2025, "month": 2, "date": 8, "utc": true}], "range": [79.7, 476]},
                "axis": {"orient": "top", "domain": false, "ticks": false, "labels": false, "minExtent": 61.35, "maxExtent": 200}}}
            },
            {
              "transform": [{"filter": "datum.series === '甲醇(华东)'"}],
              "mark": {"type": "line", "strokeWidth": 4, "strokeJoin": "round"},
              "encoding": {"x": {"field": "date", "type": "temporal",
                "scale": {"type": "utc", "domain": [{"year": 2020, "month": 9, "date": 1, "utc": true}, {"year": 2025, "month": 2, "date": 8, "utc": true}], "range": [79.7, 476]},
                "axis": null}}
            }
          ],
          "resolve": {"axis": {"x": "independent"}}
        },
        {
          "width": 509, "height": 10,
          "data": {"values": [{"k": 0}]},
          "title": {"text": "资料来源：Wind、德邦研究所", "anchor": "start", "orient": "bottom", "dx": 2, "offset": 14.3, "baseline": "alphabetic", "font": "Noto Sans CJK SC", "fontSize": 14.5, "fontWeight": "normal", "color": "#333333"},
          "mark": {"type": "rule", "color": "#A88462", "strokeWidth": 2.5},
          "encoding": {"y": {"datum": 1, "type": "quantitative", "scale": {"domain": [0, 1]}, "axis": null}}
        }
      ]
    },
    {
      "spacing": 0,
      "resolve": {"scale": {"color": "independent"}, "legend": {"color": "independent"}},
      "vconcat": [
        {
          "width": 508, "height": 2,
          "data": {"values": [{"k": 0}]},
          "title": {"text": "图 27：醋酐-醋酸价差（元/吨）", "anchor": "start", "orient": "top", "dx": 3, "offset": -9.1, "baseline": "alphabetic", "font": "Noto Sans CJK SC", "fontSize": 17.5, "fontWeight": "bold", "color": "#A07C5A"},
          "mark": {"type": "rule", "color": "#A88462", "strokeWidth": 2.5},
          "encoding": {"y": {"datum": 0, "type": "quantitative", "scale": {"domain": [0, 1]}, "axis": null}}
        },
        {
          "width": 508, "height": 157.2,
          "data": {"name": "p27"},
          "encoding": {
            "y": {"field": "value", "type": "quantitative", "scale": {"domain": [0, 9000], "nice": false},
              "axis": {"values": [0, 1000, 2000, 3000, 4000, 5000, 6000, 7000, 8000, 9000], "format": "d", "offset": -70.7, "labelFontSize": 15, "tickSize": 3, "labelPadding": 10.5, "domainColor": "#898989", "tickColor": "#898989"}},
            "color": {"field": "series", "type": "nominal",
              "scale": {"domain": ["醋酐-醋酸价差", "醋酐(山东)", "醋酸(山东)"], "range": ["#D9D9D9", "#A6835B", "#DBC79E"]},
              "legend": {"orient": "none", "legendX": 74.6, "legendY": -43.6, "direction": "horizontal", "title": null,
                "symbolType": "stroke", "symbolSize": 3200, "symbolStrokeWidth": 4, "labelFont": "Noto Sans CJK SC", "labelFontSize": 15, "labelColor": "#000000", "labelOffset": 6, "columnPadding": 11,
                "encode": {"symbols": {"update": {
                  "stroke": {"signal": "datum.label === '醋酐-醋酸价差' ? '#D9D9D9' : datum.label === '醋酐(山东)' ? '#A6835B' : '#DBC79E'"},
                  "strokeWidth": {"signal": "datum.label === '醋酐-醋酸价差' ? 8 : 4"}}}}}}
          },
          "layer": [
            {
              "transform": [{"filter": "datum.series === '醋酐-醋酸价差'"}],
              "mark": {"type": "area", "opacity": 1},
              "encoding": {"x": {"field": "date", "type": "temporal",
                "scale": {"type": "utc", "domain": [{"year": 2022, "month": 5, "date": 1, "utc": true}, {"year": 2025, "month": 3, "date": 1, "utc": true}], "range": [70.7, 475.7]},
                "axis": {"orient": "bottom", "values": [
                  {"year":2022,"month":5,"date":1,"utc":true},{"year":2022,"month":7,"date":1,"utc":true},{"year":2022,"month":9,"date":1,"utc":true},{"year":2022,"month":11,"date":1,"utc":true},{"year":2023,"month":1,"date":1,"utc":true},{"year":2023,"month":3,"date":1,"utc":true},{"year":2023,"month":5,"date":1,"utc":true},{"year":2023,"month":7,"date":1,"utc":true},{"year":2023,"month":9,"date":1,"utc":true},{"year":2023,"month":11,"date":1,"utc":true},{"year":2024,"month":1,"date":1,"utc":true},{"year":2024,"month":3,"date":1,"utc":true},{"year":2024,"month":5,"date":1,"utc":true},{"year":2024,"month":7,"date":1,"utc":true},{"year":2024,"month":9,"date":1,"utc":true},{"year":2024,"month":11,"date":1,"utc":true},{"year":2025,"month":1,"date":1,"utc":true},{"year":2025,"month":3,"date":1,"utc":true}],
                  "labelExpr": "utcFormat(datum.value, '%y/%m')", "labelAngle": -90, "labelFontSize": 14, "tickSize": -4, "labelPadding": 23, "domainColor": "#898989", "tickColor": "#555555", "labelOverlap": false, "labelFlush": false, "minExtent": 58.95, "maxExtent": 200}}}
            },
            {
              "transform": [{"filter": "datum.series === '醋酐(山东)'"}],
              "mark": {"type": "line", "strokeWidth": 4, "strokeJoin": "round"},
              "encoding": {"x": {"field": "date", "type": "temporal",
                "scale": {"type": "utc", "domain": [{"year": 2022, "month": 5, "date": 1, "utc": true}, {"year": 2025, "month": 3, "date": 1, "utc": true}], "range": [70.7, 475.7]},
                "axis": {"orient": "top", "domain": false, "ticks": false, "labels": false, "minExtent": 60.65, "maxExtent": 200}}}
            },
            {
              "transform": [{"filter": "datum.series === '醋酸(山东)'"}],
              "mark": {"type": "line", "strokeWidth": 4, "strokeJoin": "round"},
              "encoding": {"x": {"field": "date", "type": "temporal",
                "scale": {"type": "utc", "domain": [{"year": 2022, "month": 5, "date": 1, "utc": true}, {"year": 2025, "month": 3, "date": 1, "utc": true}], "range": [70.7, 475.7]},
                "axis": null}}
            }
          ],
          "resolve": {"axis": {"x": "independent"}}
        },
        {
          "width": 508, "height": 10,
          "data": {"values": [{"k": 0}]},
          "title": {"text": "资料来源：Wind、德邦研究所", "anchor": "start", "orient": "bottom", "dx": 2, "offset": 14.3, "baseline": "alphabetic", "font": "Noto Sans CJK SC", "fontSize": 14.5, "fontWeight": "normal", "color": "#333333"},
          "mark": {"type": "rule", "color": "#A88462", "strokeWidth": 2.5},
          "encoding": {"y": {"datum": 1, "type": "quantitative", "scale": {"domain": [0, 1]}, "axis": null}}
        }
      ]
    }
  ],
  "spacing": 27.5,
  "resolve": {"scale": {"color": "independent"}, "legend": {"color": "independent"}}
}
